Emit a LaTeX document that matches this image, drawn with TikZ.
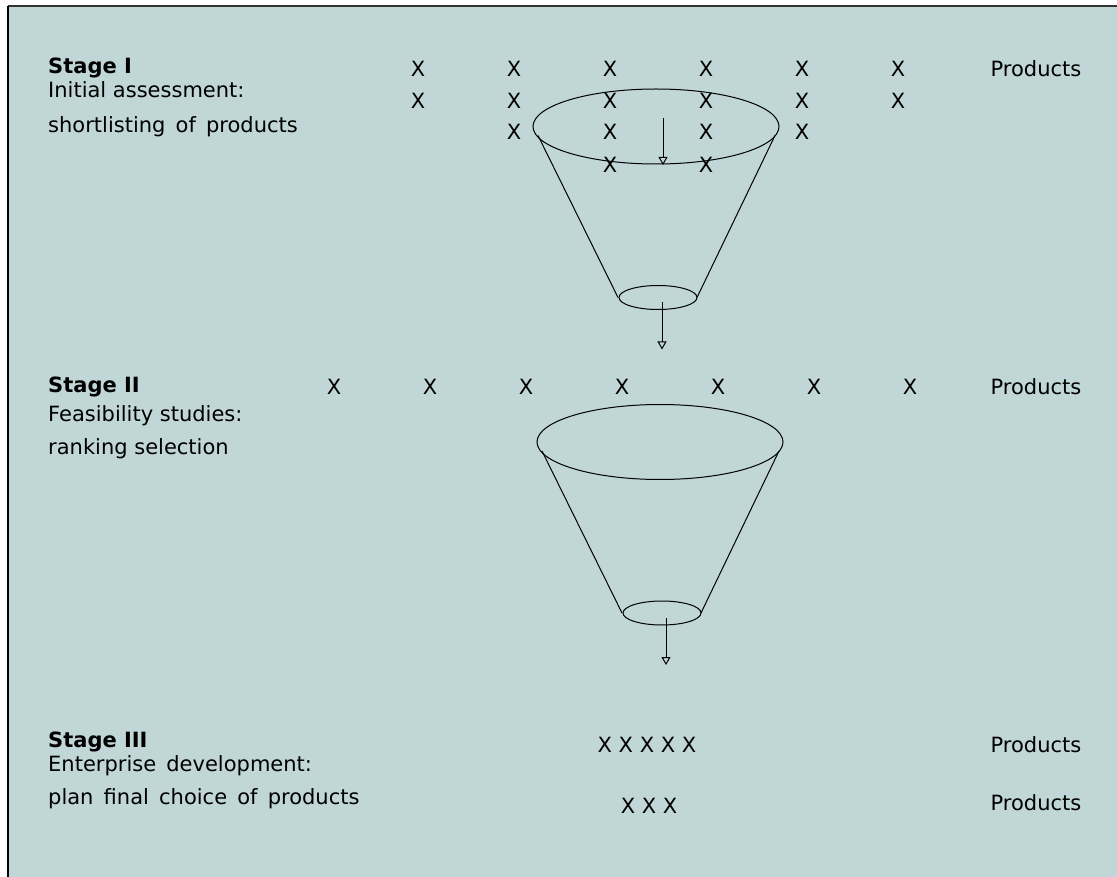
\documentclass[tikz,border=0pt]{standalone}
\usepackage{fontspec}
\setmainfont{DejaVu Sans}
\usetikzlibrary{arrows.meta}
\definecolor{panel}{RGB}{192,214,215}

\begin{document}
\begin{tikzpicture}[x=1pt, y=-1pt,
    every node/.style={inner sep=0pt, font=\fontsize{21}{24}\selectfont},
    title/.style={anchor=base west, font=\fontsize{21}{24}\selectfont\bfseries},
    line/.style={anchor=base west},
    item/.style={anchor=base},
    flow/.style={line width=1pt, -{Triangle[open, length=8pt, width=9pt]}}]
\useasboundingbox (0,0) rectangle (1117,877);
\fill[panel] (8,6) rectangle (1130,890);
\draw[line width=2pt, black!80] (8,6) -- (1130,6);
\draw[line width=2pt, black] (8,6) -- (8,890);
% Variables: 1 := position of the mouth, 2 := ID.
\def\funnel(#1)#2{
    \begin{scope}[shift={(#1)}, line width=1pt]
        \draw (0,0) ellipse [x radius=123, y radius=37.5];
        \draw (-118,9) -- (-38,171);
        \draw (119,9) -- (41,171);
        \draw (2,171) ellipse [x radius=39, y radius=12];
        \coordinate (#2 in) at (7,-8.5);
        \coordinate (#2 mid) at (7,38.5);
        \coordinate (#2 out) at (6,176);
        \coordinate (#2 end) at (6,223);
    \end{scope}
}
\funnel(656,126.5){1}
\funnel(660,442){2}
\draw[flow] (1 in) -- (1 mid);
\draw[flow] (1 out) -- (1 end);
\draw[flow] (2 out) -- (2 end);

% stage I
\node[title] (s1) at (48,74) {Stage I};
\node[line] (s1a) at (48,98) {Initial assessment:};
\node[line] (s1b) at (48,133) {shortlisting\, of\, products};
\node[item] (x11) at (418,77) {X};
\node[item] (x12) at (514,77) {X};
\node[item] (x13) at (610,77) {X};
\node[item] (x14) at (706,77) {X};
\node[item] (x15) at (802,77) {X};
\node[item] (x16) at (898,77) {X};
\node[item] (x21) at (418,109) {X};
\node[item] (x22) at (514,109) {X};
\node[item] (x23) at (610,109) {X};
\node[item] (x24) at (706,109) {X};
\node[item] (x25) at (802,109) {X};
\node[item] (x26) at (898,109) {X};
\node[item] (x32) at (514,140) {X};
\node[item] (x33) at (610,140) {X};
\node[item] (x34) at (706,140) {X};
\node[item] (x35) at (802,140) {X};
\node[item] (x43) at (610,173) {X};
\node[item] (x44) at (706,173) {X};
\node[item] (p1) at (1036,77) {Products};

% stage II
\node[title] (s2) at (48,392) {Stage II};
\node[line] (s2a) at (48,421) {Feasibility studies:};
\node[line] (s2b) at (48,454) {ranking selection};
\node[item] (y1) at (334,395) {X};
\node[item] (y2) at (430,395) {X};
\node[item] (y3) at (526,395) {X};
\node[item] (y4) at (622,395) {X};
\node[item] (y5) at (718,395) {X};
\node[item] (y6) at (814,395) {X};
\node[item] (y7) at (910,395) {X};
\node[item] (p2) at (1036,395) {Products};

% stage III
\node[title] (s3) at (48,747) {Stage III};
\node[line] (s3a) at (48,771) {Enterprise\, development:};
\node[line] (s3b) at (48,804) {plan\, final\, choice\, of\, products};
\node[item] (z1) at (647,752) {X X X X X};
\node[item] (z2) at (649,813) {X X X};
\node[item] (p3) at (1036,752) {Products};
\node[item] (p4) at (1036,810) {Products};
\end{tikzpicture}
\end{document}
